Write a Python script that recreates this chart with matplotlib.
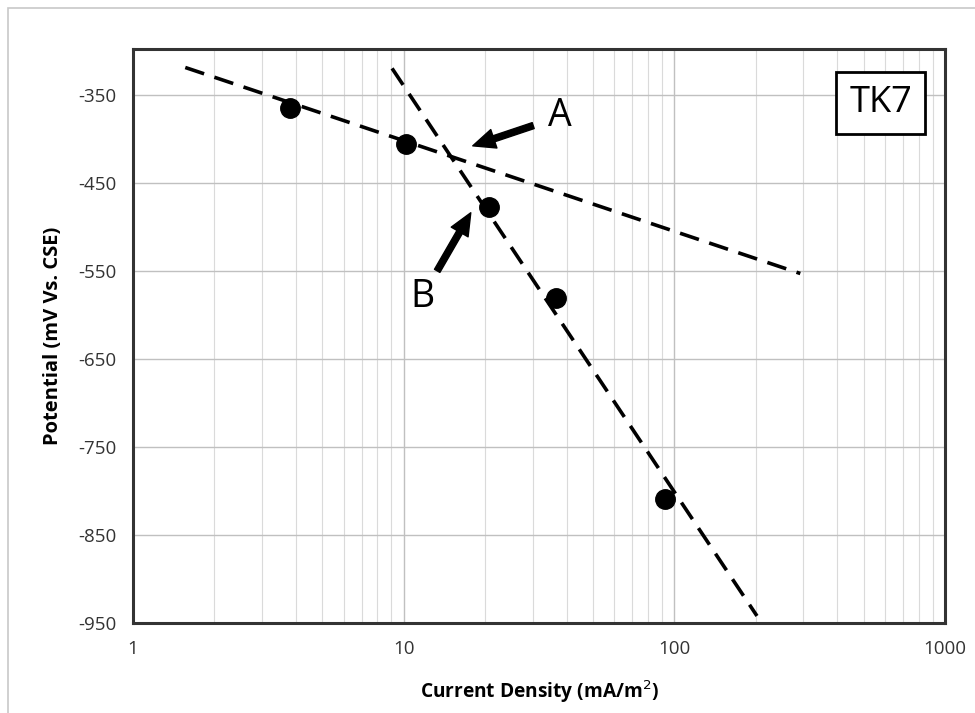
import numpy as np
import matplotlib
matplotlib.use("Agg")
import matplotlib.pyplot as plt
from matplotlib.patches import Rectangle
from matplotlib.ticker import FixedLocator, NullFormatter

plt.rcParams['font.family'] = ['Open Sans', 'DejaVu Sans']
plt.rcParams['axes.unicode_minus'] = False

# measured points
current_density = [3.8, 10.2, 20.6, 36.4, 92.6]
potential = [-365, -406, -477, -581, -809]

# Tafel fit lines (endpoints)
anodic_x = [1.56, 292]
anodic_y = [-319, -553]
cathodic_x = [9.06, 202]
cathodic_y = [-320, -942]

y_ticks = [-950, -850, -750, -650, -550, -450, -350]
x_ticks = [1, 10, 100, 1000]
x_tick_labels = ["1", "10", "100", "1000"]

fig = plt.figure(figsize=(9.75, 7.13), dpi=100)
ax = fig.add_axes([133 / 975, 1 - 623 / 713, (945 - 133) / 975, (623 - 49) / 713])

# light border around the whole figure
fig.patches.append(Rectangle((8 / 975, -0.01), 1.0, 1 - 8 / 713 + 0.01,
                             transform=fig.transFigure, fill=False,
                             edgecolor='#c8c8c8', linewidth=1.2))

ax.set_xscale('log')
ax.set_xlim(1, 1000)
ax.set_ylim(-950, -298)

ax.xaxis.set_major_locator(FixedLocator(x_ticks))
ax.set_xticklabels(x_tick_labels)
minor = [m * 10 ** d for d in range(3) for m in range(2, 10)]
ax.xaxis.set_minor_locator(FixedLocator(minor))
ax.xaxis.set_minor_formatter(NullFormatter())
ax.set_yticks(y_ticks)

ax.grid(True, which='major', color='#c0c0c0', linewidth=1.0)
ax.grid(True, which='minor', axis='x', color='#dadada', linewidth=0.8)
ax.set_axisbelow(True)
ax.tick_params(which='both', length=0, labelsize=13.5, colors='#333333', pad=12)

for s in ax.spines.values():
    s.set_linewidth(2.2)
    s.set_color('#333333')

dash = (0, (5.5, 3))
ax.plot(anodic_x, anodic_y, linestyle=dash, color='black', linewidth=2.6)
ax.plot(cathodic_x, cathodic_y, linestyle=dash, color='black', linewidth=2.6)
ax.plot(current_density, potential, 'o', color='black', markersize=14, zorder=5)

ax.set_xlabel('Current Density (mA/m$^2$)', fontsize=13.8, fontweight='bold', labelpad=15)
ax.set_ylabel('Potential (mV Vs. CSE)', fontsize=14.5, fontweight='bold', labelpad=11)

arrow = dict(facecolor='black', edgecolor='black', width=4.5, headwidth=14,
             headlength=16, shrink=0.0)
ax.annotate('', xy=(18.0, -408), xytext=(30.1, -385), arrowprops=arrow)
ax.annotate('', xy=(17.7, -484), xytext=(13.3, -550), arrowprops=arrow)
ax.text(34, -374, 'A', fontsize=27, ha='left', va='center')
ax.text(11.7, -580, 'B', fontsize=27, ha='center', va='center')

ax.text(0.921, 0.906, 'TK7', transform=ax.transAxes, fontsize=26, ha='center', va='center',
        bbox=dict(boxstyle='square,pad=0.36', facecolor='white', edgecolor='black', linewidth=2))

fig.savefig('out.png', dpi=100)
